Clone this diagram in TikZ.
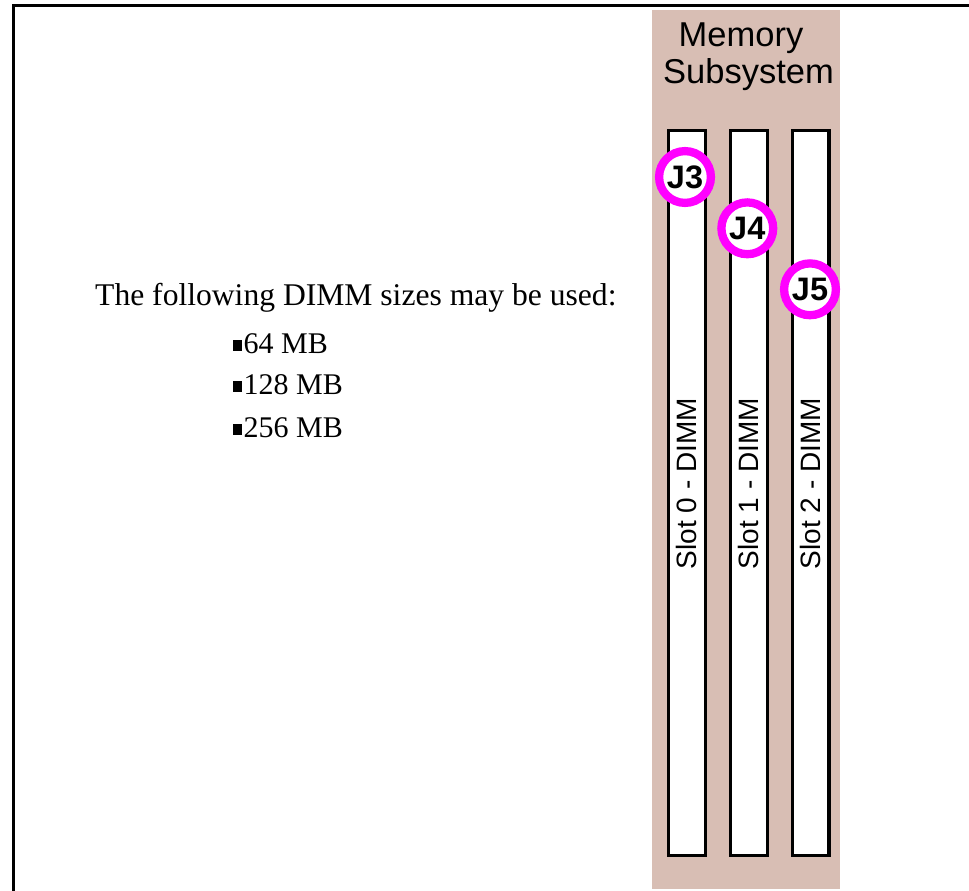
\documentclass[tikz,border=0pt]{standalone}
\usepackage{fontspec}
\setmainfont{Liberation Serif}
\newfontfamily\arialf{Liberation Sans}
\definecolor{panelc}{RGB}{216,190,180}
\definecolor{ringc}{RGB}{255,0,255}
\newcommand{\sqbul}{\raisebox{2.5pt}{\rule{9pt}{11pt}}\hspace{1.5pt}}
\begin{document}
\begin{tikzpicture}[x=1pt,y=-1pt,
  framelines/.style={line width=3pt},
  panelbox/.style={fill=panelc, draw=none, inner sep=0pt, minimum width=188pt, minimum height=879pt},
  slotbox/.style={draw=black, line width=3.3pt, fill=white, inner sep=0pt, minimum width=36.7pt, minimum height=724.7pt},
  slotlabel/.style={rotate=90, inner sep=0pt, font=\arialf\fontsize{28}{32}\selectfont},
  titletext/.style={anchor=base, inner sep=0pt, font=\arialf\fontsize{34.5}{38}\selectfont},
  jring/.style={circle, draw=ringc, line width=8.3pt, fill=white, inner sep=0pt, minimum size=51.8pt, font=\arialf\bfseries\fontsize{32.5}{34}\selectfont},
  bodytext/.style={anchor=base west, inner sep=0pt, font=\fontsize{31.6}{36}\selectfont},
  itemtext/.style={anchor=base west, inner sep=0pt, font=\fontsize{30}{34}\selectfont}
]
\useasboundingbox (0,0) rectangle (969,891);
\fill[white] (0,0) rectangle (969,891);
\draw[framelines] (13.5,900) -- (13.5,5.3) -- (980,5.3);

\node[panelbox] (panel) at (746,449.5) {};
\node[titletext] (mem1) at (741,47) {Memory};
\node[titletext] (mem2) at (748.5,83) {Subsystem};

\node[slotbox] (s0) at (687,493) {};
\node[slotbox] (s1) at (749,493) {};
\node[slotbox] (s2) at (810.5,493) {};

\node[slotlabel] (l0) at (686.5,483.5) {Slot 0 - DIMM};
\node[slotlabel] (l1) at (748.5,483.5) {Slot 1 - DIMM};
\node[slotlabel] (l2) at (810,483.5) {Slot 2 - DIMM};

\node[jring] (j3) at (685,177) {J3};
\node[jring] (j4) at (747.3,228.3) {J4};
\node[jring] (j5) at (810,289.3) {J5};

\node[bodytext] (intro) at (95,305) {The following DIMM sizes may be used:};
\node[itemtext] (i1) at (233,353) {\sqbul 64 MB};
\node[itemtext] (i2) at (233,394) {\sqbul 128 MB};
\node[itemtext] (i3) at (233,437) {\sqbul 256 MB};
\end{tikzpicture}
\end{document}
